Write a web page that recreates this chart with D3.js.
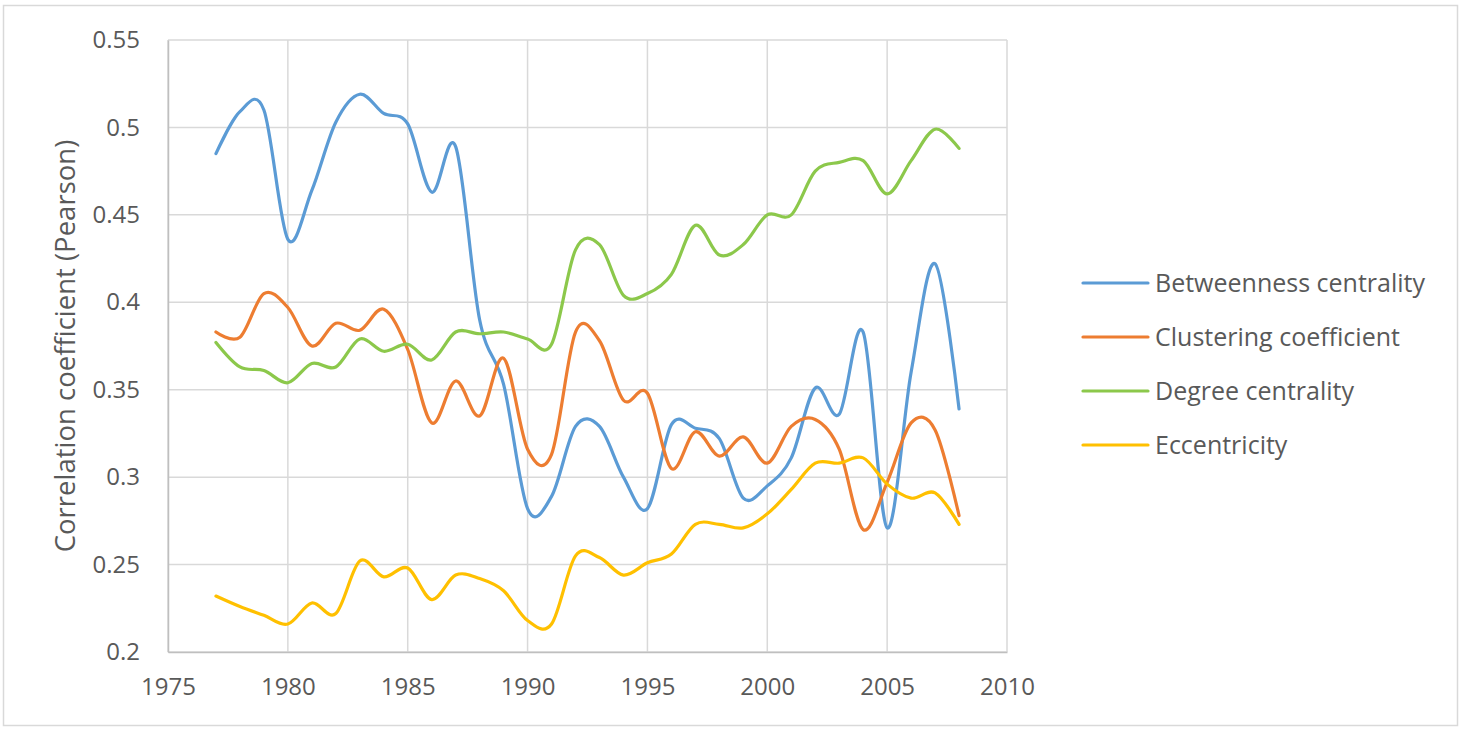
<!DOCTYPE html>
<html>
<head>
<meta charset="utf-8">
<script src="https://cdn.jsdelivr.net/npm/d3@7"></script>
<style>
  html, body { margin: 0; padding: 0; background: #fff; }
  svg { display: block; }
  text { font-family: "Open Sans", sans-serif; fill: #595959; }
</style>
</head>
<body>
<svg id="chart" width="1462" height="730"></svg>
<script>
const years = d3.range(1977, 2009);
const betweenness = [0.485, 0.509, 0.510, 0.436, 0.464, 0.503, 0.519, 0.508, 0.502, 0.463, 0.489, 0.390, 0.353, 0.282, 0.289, 0.329, 0.329, 0.300, 0.282, 0.330, 0.328, 0.322, 0.288, 0.295, 0.311, 0.351, 0.336, 0.383, 0.271, 0.360, 0.422, 0.339];
const clustering = [0.383, 0.380, 0.405, 0.397, 0.375, 0.388, 0.384, 0.396, 0.373, 0.331, 0.355, 0.335, 0.368, 0.316, 0.313, 0.383, 0.378, 0.344, 0.348, 0.305, 0.326, 0.312, 0.323, 0.308, 0.329, 0.333, 0.316, 0.270, 0.297, 0.331, 0.327, 0.278];
const degree = [0.377, 0.363, 0.361, 0.354, 0.365, 0.363, 0.379, 0.372, 0.376, 0.367, 0.383, 0.382, 0.383, 0.379, 0.376, 0.430, 0.433, 0.404, 0.405, 0.416, 0.444, 0.427, 0.433, 0.450, 0.450, 0.475, 0.480, 0.481, 0.462, 0.481, 0.499, 0.488];
const eccentricity = [0.232, 0.226, 0.221, 0.216, 0.228, 0.222, 0.252, 0.243, 0.248, 0.230, 0.244, 0.242, 0.235, 0.218, 0.216, 0.255, 0.254, 0.244, 0.251, 0.256, 0.273, 0.273, 0.271, 0.279, 0.293, 0.308, 0.308, 0.311, 0.296, 0.288, 0.291, 0.273];
const seriesNames = ["Betweenness centrality", "Clustering coefficient", "Degree centrality", "Eccentricity"];
const seriesColors = ["#5B9BD5", "#ED7D31", "#8CC84B", "#FFC000"];
const xTicks = [1975, 1980, 1985, 1990, 1995, 2000, 2005, 2010];
const yTicks = [0.2, 0.25, 0.3, 0.35, 0.4, 0.45, 0.5, 0.55];
const yTitle = "Correlation coefficient (Pearson)";

const seriesValues = [betweenness, clustering, degree, eccentricity];

const svg = d3.select("#chart");
const plotL = 168, plotR = 1007, plotT = 40, plotB = 652;

// outer border
svg.append("rect").attr("x", 3.5).attr("y", 5.5).attr("width", 1454).attr("height", 720)
  .attr("fill", "#fff").attr("stroke", "#d9d9d9").attr("stroke-width", 1.5);

const x = d3.scaleLinear().domain([1975, 2010]).range([plotL, plotR]);
const y = d3.scaleLinear().domain([0.2, 0.55]).range([plotB, plotT]);

// gridlines
const grid = svg.append("g");
grid.selectAll("line.h").data(yTicks).join("line").attr("class", "h")
  .attr("x1", plotL).attr("x2", plotR)
  .attr("y1", d => y(d)).attr("y2", d => y(d))
  .attr("stroke", "#d9d9d9").attr("stroke-width", 1.5);
grid.selectAll("line.v").data(xTicks).join("line").attr("class", "v")
  .attr("y1", plotT).attr("y2", plotB)
  .attr("x1", d => x(d)).attr("x2", d => x(d))
  .attr("stroke", "#d9d9d9").attr("stroke-width", 1.5);

// axes labels
const yAxis = d3.axisLeft(y).tickValues(yTicks).tickSize(0).tickPadding(28)
  .tickFormat(d => String(+d.toFixed(2)));
const gy = svg.append("g").attr("transform", `translate(${plotL},0)`).call(yAxis);
gy.select(".domain").attr("stroke", "#bfbfbf").attr("stroke-width", 1.5);
gy.selectAll("text").style("font-size", "24px").attr("fill", "#595959")
  .style("font-family", '"Open Sans", sans-serif');

const xAxis = d3.axisBottom(x).tickValues(xTicks).tickSize(0).tickPadding(26)
  .tickFormat(d3.format("d"));
const gx = svg.append("g").attr("transform", `translate(0,${plotB})`).call(xAxis);
gx.select(".domain").attr("stroke", "#bfbfbf").attr("stroke-width", 1.5);
gx.selectAll("text").style("font-size", "24px").attr("fill", "#595959")
  .style("font-family", '"Open Sans", sans-serif');

// y title
svg.append("text")
  .attr("transform", `translate(75,${(plotT + plotB) / 2}) rotate(-90)`)
  .attr("text-anchor", "middle")
  .style("font-size", "27.5px")
  .text(yTitle);

// lines
const line = d3.line()
  .x((d, i) => x(years[i]))
  .y(d => y(d))
  .curve(d3.curveCardinal.tension(0));

svg.append("g").selectAll("path").data(seriesValues).join("path")
  .attr("d", d => line(d))
  .attr("fill", "none")
  .attr("stroke", (d, i) => seriesColors[i])
  .attr("stroke-width", 3.2)
  .attr("stroke-linecap", "round")
  .attr("stroke-linejoin", "round");

// legend
const legend = svg.append("g");
const lg = legend.selectAll("g").data(seriesNames).join("g")
  .attr("transform", (d, i) => `translate(1083,${283 + i * 54})`);
lg.append("line").attr("x1", 0).attr("x2", 65).attr("y1", 0).attr("y2", 0)
  .attr("stroke", (d, i) => seriesColors[i]).attr("stroke-width", 3.2)
  .attr("stroke-linecap", "round");
lg.append("text").attr("x", 72).attr("y", 0).attr("dy", "0.36em")
  .style("font-size", "25px").text(d => d);
</script>
</body>
</html>
